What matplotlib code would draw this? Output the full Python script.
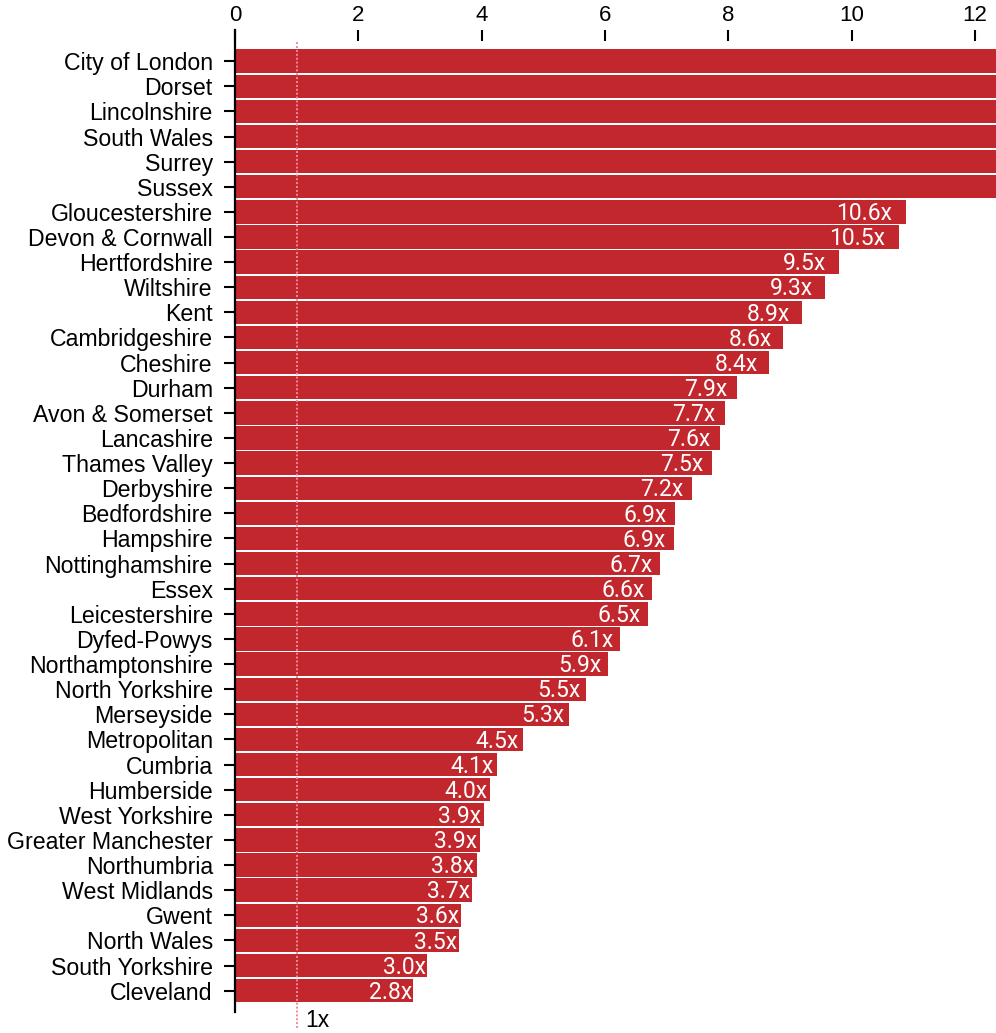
import matplotlib.pyplot as plt

# police force areas, sorted by ratio (largest first)
regions = [
    'City of London', 'Dorset', 'Lincolnshire', 'South Wales', 'Surrey', 'Sussex',
    'Gloucestershire', 'Devon & Cornwall', 'Hertfordshire', 'Wiltshire', 'Kent',
    'Cambridgeshire', 'Cheshire', 'Durham', 'Avon & Somerset', 'Lancashire',
    'Thames Valley', 'Derbyshire', 'Bedfordshire', 'Hampshire', 'Nottinghamshire',
    'Essex', 'Leicestershire', 'Dyfed-Powys', 'Northamptonshire', 'North Yorkshire',
    'Merseyside', 'Metropolitan', 'Cumbria', 'Humberside', 'West Yorkshire',
    'Greater Manchester', 'Northumbria', 'West Midlands', 'Gwent', 'North Wales',
    'South Yorkshire', 'Cleveland',
]

# ratio (x times); the first six run off the chart so their values are guesses
ratios = [
    17.0, 15.5, 14.5, 13.8, 13.2, 12.8,
    10.58, 10.47, 9.52, 9.30, 8.94,
    8.64, 8.42, 7.92, 7.72, 7.64,
    7.52, 7.21, 6.94, 6.92, 6.70,
    6.58, 6.51, 6.07, 5.88, 5.53,
    5.27, 4.54, 4.13, 4.02, 3.92,
    3.86, 3.81, 3.74, 3.56, 3.53,
    3.03, 2.81,
]

tick_values = [0, 2, 4, 6, 8, 10, 12]

RED = '#c1272d'
PINK = '#f08a98'

fig = plt.figure(figsize=(9.96, 10.33), dpi=100)
ax = fig.add_axes([235 / 996, 21 / 1033, 761 / 996, 982 / 1033])

pos = list(range(len(regions)))
ax.barh(pos, ratios, height=0.93, color=RED, linewidth=0)
ax.set_xlim(0, 12)
ax.set_ylim(37.85, -1.24)
ax.set_yticks(pos)
ax.set_yticklabels(regions, fontsize=16.7, family='Liberation Sans', color='black')
ax.tick_params(axis='y', length=8, width=1.5, pad=8)
ax.set_xticks([])
for s in ['top', 'right', 'bottom']:
    ax.spines[s].set_visible(False)
ax.spines['left'].set_linewidth(1.6)

# the tick axis on top runs on a slightly different scale than the bars
top = ax.twiny()
top.set_xlim(0, 12 * 761 / 740)
top.set_xticks(tick_values)
top.set_xticklabels([str(t) for t in tick_values], fontsize=16, family='Liberation Sans')
top.tick_params(axis='x', direction='in', length=8, width=1.5, pad=3)
for s in top.spines.values():
    s.set_visible(False)

# reference line at 1x
top.axvline(1, ymin=-0.0163, ymax=0.9878, color=PINK, linestyle=(0, (1, 1)),
            lw=1.4, clip_on=False)
top.annotate('1x', xy=(1, -0.009), xycoords=top.get_xaxis_transform(),
             xytext=(6, 0), textcoords='offset points', ha='left', va='center',
             fontsize=16.5, family='Liberation Sans', annotation_clip=False)

# value labels inside the bar ends
for i, v in enumerate(ratios):
    if v < 12:
        top.annotate(f'{v:.1f}x', xy=(v, i), xytext=(3, -1.2), textcoords='offset points',
                     ha='right', va='center', color='white', fontsize=16.5, family='Roboto')

fig.savefig('out.png', dpi=100)
